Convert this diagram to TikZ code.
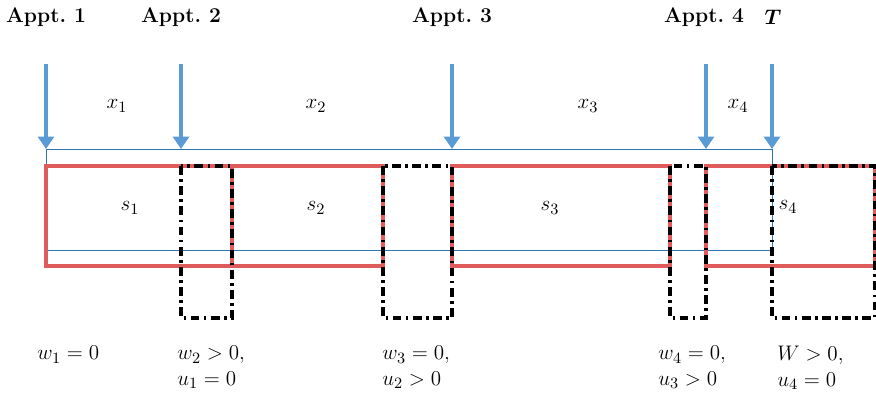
\documentclass[tikz,border=0pt]{standalone}
\usepackage{amsmath,amssymb}
\usepackage{tikz}
\usetikzlibrary{arrows.meta}
\usepackage{xcolor}
\definecolor{apptblue}{RGB}{91,155,213}
\definecolor{frameblue}{RGB}{46,117,182}
\definecolor{slotred}{RGB}{224,92,92}

\begin{document}
\begin{tikzpicture}[x=0.02cm,y=-0.02cm,
    appt/.style={line width=2.6pt,apptblue,-{Triangle[width=9pt,length=7pt]}},
    slot/.style={line width=2.2pt,slotred},
    idle/.style={line width=2.2pt,black,dash pattern=on 5pt off 2.5pt on 1.5pt off 2.5pt},
    lab/.style={font=\fontsize{12}{14}\selectfont\bfseries},
    cond/.style={anchor=north west,inner sep=0pt,align=left,font=\fontsize{13}{14.5}\selectfont}]
    \useasboundingbox (0,0) rectangle (876,394);
    %\draw[step=50, gray,very thin] (0,0) grid (876,394);

    % arrivals
    \node[lab] (appt1) at (46,17) {Appt.\ 1};
    \node[lab] (appt2) at (181,17) {Appt.\ 2};
    \node[lab] (appt3) at (452,17) {Appt.\ 3};
    \node[lab] (appt4) at (704,17) {Appt.\ 4};
    \node[lab] (end) at (773,17) {$\boldsymbol{T}$};
    \foreach \n/\x in {1/46,2/181,3/452,4/706,5/772}{
        \coordinate (top\n) at (\x,64);
        \coordinate (bot\n) at (\x,149);
        \draw[appt] (top\n) -- (bot\n);
    }

    % scheduled slots
    \draw[frameblue,line width=0.5pt] (46,149) rectangle (772,250);
    \begin{scope}[slot]
    \draw (46,166) -- (383,166) -- (383,266) -- (46,266) -- cycle;
    \draw (232,166) -- (232,266);
    \draw (452,166) rectangle (670,266);
    \draw (706,166) -- (875,166) -- (875,266) -- (706,266) -- cycle;
    \end{scope}

    % waiting / idle
    \foreach \a/\b in {181/232,383/452,670/706,772/875}
        \draw[idle] (\a,166) rectangle (\b,318);

    \begin{scope}[font=\fontsize{13}{14}\selectfont]
    \node (x1) at (117,106) {$x_1$};
    \node (x2) at (316,106) {$x_2$};
    \node (x3) at (588,106) {$x_3$};
    \node (x4) at (738,106) {$x_4$};
    \node (s1) at (130,208) {$s_1$};
    \node (s2) at (316,208) {$s_2$};
    \node (s3) at (550,208) {$s_3$};
    \node (s4) at (788,207) {$s_4$};
    \end{scope}

    \node[cond] (c1) at (37,346) {$w_1=0$};
    \node[cond] (c2) at (177,346) {$w_2>0,$\\$u_1=0$};
    \node[cond] (c3) at (382,346) {$w_3=0,$\\$u_2>0$};
    \node[cond] (c4) at (658,346) {$w_4=0,$\\$u_3>0$};
    \node[cond] (c5) at (777,346) {$W>0,$\\$u_4=0$};
\end{tikzpicture}
\end{document}
